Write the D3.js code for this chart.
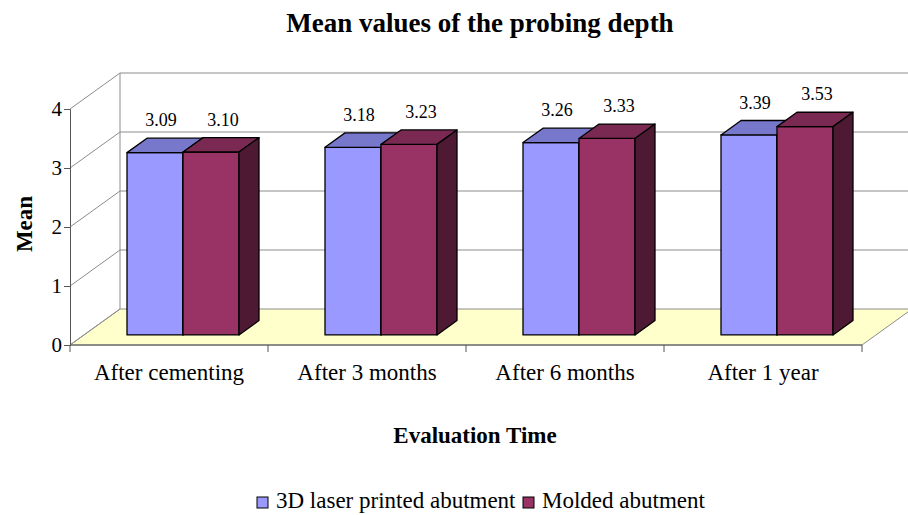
<!DOCTYPE html>
<html>
<head>
<meta charset="utf-8">
<script src="https://cdn.jsdelivr.net/npm/d3@7"></script>
<style>
  body { margin: 0; background: #fff; }
  text { font-family: "Liberation Serif", "Times New Roman", serif; }
</style>
</head>
<body>
<div id="the_chart"></div>
<script>
var categories = ["After cementing", "After 3 months", "After 6 months", "After 1 year"];
var series = ["3D laser printed abutment", "Molded abutment"];
var printed = [3.09, 3.18, 3.26, 3.39];
var molded = [3.10, 3.23, 3.33, 3.53];
var yTicks = [0, 1, 2, 3, 4];

var w = 908, h = 515;
var plotLeft = 70, plotRight = 862, plotBottom = 345, plotTop = 109;
var depthX = 50, depthY = -36;   // full depth of the 3d box
var f0 = 0.28, f1 = 0.68;        // front/back of the bars as depth fraction

var colors = {
  front: ["#9999ff", "#993366"],
  top: ["#7777cc", "#7a2952"],
  side: ["#6666aa", "#4d1933"]
};
var labelShift = [6, 12];

var svg = d3.select("#the_chart")
            .append("svg")
            .attr("width", w)
            .attr("height", h);

var yscale = d3.scaleLinear().domain([0, 4]).range([plotBottom, plotTop]);
var x0 = d3.scaleBand().domain(categories).range([plotLeft, plotRight]);
var groupW = 112;
var x1 = d3.scaleBand().domain(series).range([0, groupW]);

function pt(x, y, f) { return [x + depthX * f, y + depthY * f]; }
function poly(pts) { return pts.map(function (p) { return p.join(","); }).join(" "); }

// floor
svg.append("polygon")
   .attr("points", poly([[plotLeft, plotBottom], [plotRight, plotBottom], pt(plotRight, plotBottom, 1), pt(plotLeft, plotBottom, 1)]))
   .attr("fill", "#ffffcc")
   .attr("stroke", "#8c8c8c");

// back wall gridlines + left wall diagonals
yTicks.forEach(function (v) {
  var b = pt(plotLeft, yscale(v), 1);
  if (v > 0) {
    svg.append("line")
       .attr("x1", b[0]).attr("y1", b[1]).attr("x2", w).attr("y2", b[1])
       .attr("stroke", "#8c8c8c");
  }
  svg.append("line")
     .attr("x1", plotLeft).attr("y1", yscale(v)).attr("x2", b[0]).attr("y2", b[1])
     .attr("stroke", "#8c8c8c");
});
svg.append("line")
   .attr("x1", plotLeft + depthX).attr("y1", yscale(4) + depthY)
   .attr("x2", plotLeft + depthX).attr("y2", yscale(0) + depthY)
   .attr("stroke", "#8c8c8c");

// axes
var yaxis = d3.axisLeft(yscale).tickValues(yTicks).tickSize(6).tickFormat(d3.format("d"));
var gY = svg.append("g")
   .attr("transform", "translate(" + plotLeft + ",0)")
   .call(yaxis);
gY.select(".domain").attr("stroke", "#555");
gY.selectAll(".tick line").attr("stroke", "#555");
gY.selectAll(".tick text")
   .attr("font-family", "Liberation Serif")
   .attr("font-size", 21)
   .attr("fill", "#000")
   .attr("x", -8);

svg.append("line")
   .attr("x1", plotLeft).attr("y1", plotBottom).attr("x2", plotRight).attr("y2", plotBottom)
   .attr("stroke", "#555");
var bounds = categories.map(function (c) { return x0(c); }).concat([plotRight]);
svg.selectAll(".xtick")
   .data(bounds)
   .enter().append("line")
   .attr("x1", function (d) { return d; }).attr("x2", function (d) { return d; })
   .attr("y1", plotBottom).attr("y2", plotBottom + 7)
   .attr("stroke", "#555");

svg.selectAll(".cat")
   .data(categories)
   .enter().append("text")
   .attr("x", function (d) { return x0(d) + x0.bandwidth() / 2; })
   .attr("y", 380)
   .attr("text-anchor", "middle")
   .attr("font-size", 23)
   .text(function (d) { return d; });

// bars
var bars = [];
categories.forEach(function (c, i) {
  bars.push({ cat: c, s: 0, v: printed[i] });
  bars.push({ cat: c, s: 1, v: molded[i] });
});

var barW = x1.bandwidth();
var g = svg.append("g");
bars.forEach(function (d) {
  var xl = x0(d.cat) + (x0.bandwidth() - groupW) / 2 + x1(series[d.s]);
  var xr = xl + barW;
  var yt = yscale(d.v), yb = yscale(0);
  var a = pt(xl, yt, f0), b = pt(xr, yt, f0), c = pt(xr, yb, f0), e = pt(xl, yb, f0);
  var bt = pt(xr, yt, f1), at = pt(xl, yt, f1), cb = pt(xr, yb, f1);
  g.append("polygon")
   .attr("points", poly([a, b, c, e]))
   .attr("fill", colors.front[d.s]).attr("stroke", "#000").attr("stroke-width", 1.3)
   .attr("stroke-linejoin", "round");
  g.append("polygon")
   .attr("points", poly([a, b, bt, at]))
   .attr("fill", colors.top[d.s]).attr("stroke", "#000").attr("stroke-width", 1.3)
   .attr("stroke-linejoin", "round");
  g.append("polygon")
   .attr("points", poly([b, bt, cb, c]))
   .attr("fill", colors.side[d.s]).attr("stroke", "#000").attr("stroke-width", 1.3)
   .attr("stroke-linejoin", "round");
  svg.append("text")
     .attr("x", (a[0] + b[0]) / 2 + labelShift[d.s])
     .attr("y", at[1] - 12)
     .attr("text-anchor", "middle")
     .attr("font-size", 18)
     .text(d.v.toFixed(2));
});

// titles
svg.append("text")
   .attr("x", 480).attr("y", 32)
   .attr("text-anchor", "middle")
   .attr("font-size", 27).attr("font-weight", "bold")
   .text("Mean values of the probing depth");

svg.append("text")
   .attr("transform", "translate(32,224) rotate(-90)")
   .attr("text-anchor", "middle")
   .attr("font-size", 23).attr("font-weight", "bold")
   .text("Mean");

svg.append("text")
   .attr("x", 475).attr("y", 443)
   .attr("text-anchor", "middle")
   .attr("font-size", 23).attr("font-weight", "bold")
   .text("Evaluation Time");

// legend
var legX = [257, 523];
series.forEach(function (s, i) {
  svg.append("rect")
     .attr("x", legX[i]).attr("y", 497)
     .attr("width", 11).attr("height", 11)
     .attr("fill", colors.front[i]).attr("stroke", "#000");
  svg.append("text")
     .attr("x", legX[i] + 19).attr("y", 508)
     .attr("font-size", 23)
     .text(s);
});
</script>
</body>
</html>
